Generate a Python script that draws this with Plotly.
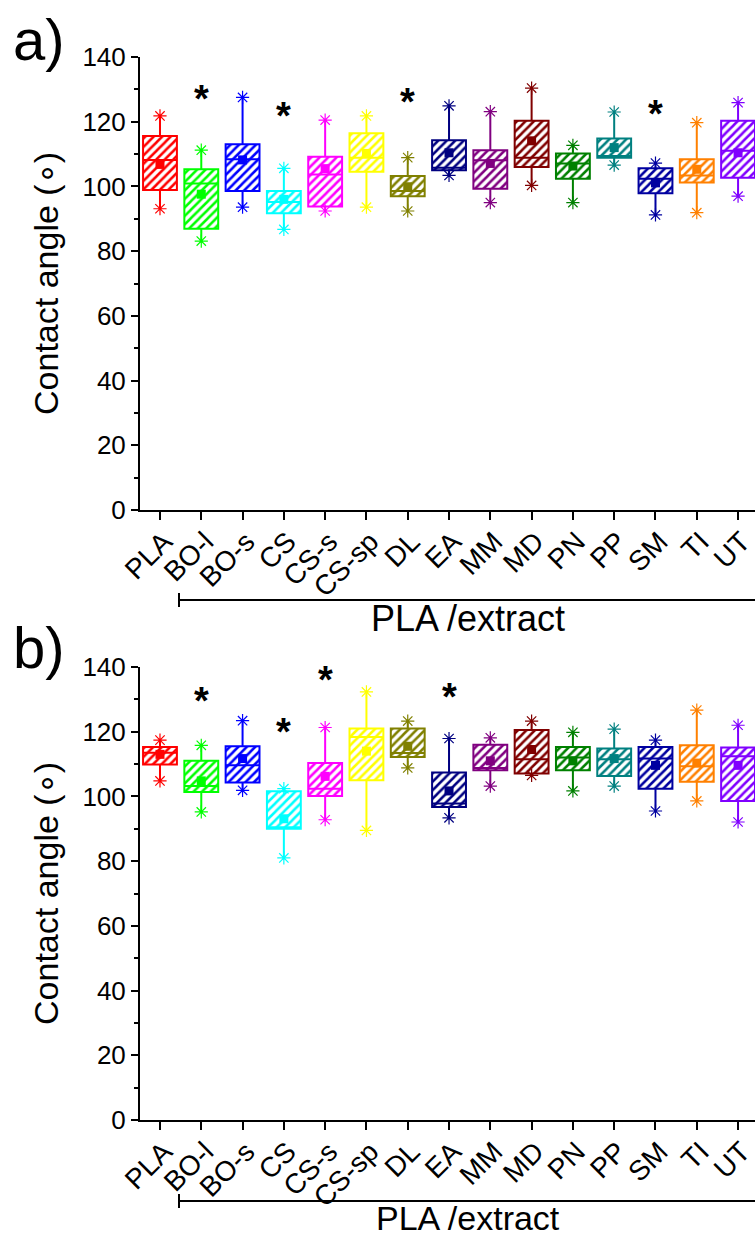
import plotly.graph_objects as go

cats = ["PLA", "BO-l", "BO-s", "CS", "CS-s", "CS-sp", "DL", "EA", "MM", "MD", "PN", "PP", "SM", "TI", "UT"]
colors = ["#FF0000", "#00FF00", "#0000FF", "#00FFFF", "#FF00FF", "#FFFF00", "#808000", "#000080",
          "#800080", "#800000", "#008000", "#008080", "#0000A0", "#FF8000", "#8000FF"]

# panel a
a_min = [93.1, 83.1, 93.6, 86.7, 92.4, 93.6, 92.4, 103.4, 95.0, 100.3, 95.0, 106.6, 91.2, 91.9, 97.0]
a_q1 = [98.9, 86.9, 98.6, 91.7, 93.8, 104.5, 97.0, 105.0, 99.3, 106.0, 102.4, 108.9, 97.9, 101.2, 102.7]
a_med = [108.2, 100.9, 108.4, 95.2, 103.7, 108.9, 98.6, 105.8, 108.1, 108.9, 107.1, 109.4, 102.4, 103.4, 111.0]
a_q3 = [115.6, 105.3, 113.0, 98.6, 109.2, 116.4, 103.2, 114.3, 111.2, 120.3, 110.2, 114.8, 105.6, 108.4, 120.3]
a_max = [121.8, 111.2, 127.5, 105.6, 120.5, 121.8, 108.9, 124.9, 123.1, 130.4, 112.7, 123.0, 107.2, 119.7, 125.9]
a_mean = [106.8, 97.6, 108.2, 96.0, 105.5, 110.2, 99.9, 110.4, 107.1, 114.1, 106.3, 112.0, 101.1, 105.3, 110.4]
a_star_idx = [1, 3, 6, 12]
a_star_y = [125.0, 119.7, 123.9, 120.3]

# panel b
b_min = [104.8, 95.2, 101.9, 81.0, 92.8, 89.5, 108.8, 93.4, 103.2, 106.5, 101.7, 103.2, 95.5, 98.6, 92.1]
b_q1 = [109.9, 101.4, 104.3, 90.0, 100.1, 105.0, 112.2, 96.7, 108.1, 107.1, 108.1, 106.3, 102.4, 104.5, 98.6]
b_med = [113.5, 103.2, 109.6, 90.5, 102.4, 118.4, 113.4, 97.8, 108.8, 111.5, 112.0, 111.5, 111.7, 109.3, 112.4]
b_q3 = [115.3, 111.0, 115.5, 101.6, 110.3, 121.0, 121.0, 107.4, 116.0, 120.5, 115.3, 114.8, 115.3, 115.8, 115.1]
b_max = [117.4, 115.8, 123.4, 102.4, 121.3, 132.3, 123.3, 117.9, 118.1, 123.3, 119.8, 120.8, 117.4, 126.7, 122.0]
b_mean = [113.0, 104.8, 111.7, 93.1, 106.2, 114.0, 115.5, 101.7, 111.0, 114.5, 111.0, 111.7, 109.6, 110.3, 109.6]
b_star_idx = [1, 3, 4, 7]
b_star_y = [127.2, 117.7, 133.9, 128.7]

yticks = [0, 20, 40, 60, 80, 100, 120, 140]

FONT = "Liberation Sans, Arial, sans-serif"
W, H = 755, 1238
ML = 140
PW = W - ML
BW = 0.82

fig = go.Figure()
xs = list(range(len(cats)))


def add_panel(xa, ya, vmin, q1, med, q3, vmax, mean):
    fig.add_trace(go.Bar(
        x=xs, y=[t - b for t, b in zip(q3, q1)], base=q1, width=BW,
        xaxis=xa, yaxis=ya, showlegend=False, hoverinfo="skip",
        marker=dict(color="white", line=dict(width=0),
                    pattern=dict(shape="/", fgcolor=colors, bgcolor="white", size=6,
                                 solidity=0.42, fgopacity=1)),
    ))
    for i in xs:
        fig.add_trace(go.Box(
            x=[i], q1=[q1[i]], median=[med[i]], q3=[q3[i]],
            lowerfence=[vmin[i]], upperfence=[vmax[i]], width=BW,
            fillcolor="rgba(0,0,0,0)", line=dict(color=colors[i], width=2),
            whiskerwidth=0, xaxis=xa, yaxis=ya, showlegend=False, hoverinfo="skip",
        ))
    fig.add_trace(go.Scatter(
        x=xs + xs, y=vmin + vmax, mode="markers", xaxis=xa, yaxis=ya, showlegend=False,
        marker=dict(symbol="asterisk-open", size=11, color=colors + colors,
                    line=dict(color=colors + colors, width=1.2)),
    ))
    fig.add_trace(go.Scatter(
        x=xs, y=mean, mode="markers", xaxis=xa, yaxis=ya, showlegend=False,
        marker=dict(symbol="square", size=9, color=colors, line=dict(width=0)),
    ))


add_panel("x", "y", a_min, a_q1, a_med, a_q3, a_max, a_mean)
add_panel("x2", "y2", b_min, b_q1, b_med, b_q3, b_max, b_mean)


def py_paper(py):
    return (H - py) / H


def px_paper(px):
    return (px - ML) / PW


xrange_ = [-0.484, 14.41]
xaxis_common = dict(
    range=xrange_, tickvals=xs, ticktext=cats, tickangle=-45,
    showline=True, linecolor="black", linewidth=2, ticks="outside", ticklen=8, tickwidth=1.5,
    tickcolor="black", tickfont=dict(family=FONT, size=28, color="black"),
    ticklabelshift=4, ticklabelstandoff=-6, ticklabeloverflow="allow", automargin=False,
    showgrid=False, zeroline=False,
)
yaxis_common = dict(
    range=[0, 140], tickvals=yticks, showline=True, linecolor="black", linewidth=2,
    ticks="outside", ticklen=7, tickwidth=1.5, tickcolor="black",
    minor=dict(dtick=10, ticks="outside", ticklen=4, tickwidth=1.5, tickcolor="black"),
    tickfont=dict(family=FONT, size=26, color="black"), showgrid=False, zeroline=False,
    automargin=False,
    title=dict(text="Contact angle (\u2218)", font=dict(family=FONT, size=34, color="black"), standoff=14),
)

fig.update_layout(
    width=W, height=H, margin=dict(l=ML, r=0, t=0, b=0),
    paper_bgcolor="white", plot_bgcolor="white", barmode="overlay", boxmode="overlay",
    xaxis=dict(domain=[0, 1], anchor="y", **xaxis_common),
    yaxis=dict(domain=[py_paper(510), py_paper(57)], anchor="x", **yaxis_common),
    xaxis2=dict(domain=[0, 1], anchor="y2", **xaxis_common),
    yaxis2=dict(domain=[py_paper(1120), py_paper(667)], anchor="x2", **yaxis_common),
)

# significance asterisks
for xr, yr, idxs, ys in [("x", "y", a_star_idx, a_star_y), ("x2", "y2", b_star_idx, b_star_y)]:
    for idx, yv in zip(idxs, ys):
        fig.add_annotation(x=idx, y=yv, xref=xr, yref=yr, text="<b>*</b>", showarrow=False,
                           font=dict(family=FONT, size=38, color="black"), yanchor="middle", yshift=7)

# panel labels
for txt, py in [("a)", 39), ("b)", 647)]:
    fig.add_annotation(x=px_paper(39), y=py_paper(py), xref="paper", yref="paper", text=txt,
                       showarrow=False, font=dict(family=FONT, size=58, color="black"),
                       xanchor="center", yanchor="middle")

# PLA / extract brackets
for xr, py_line in [("x", 600), ("x2", 1201)]:
    fig.add_shape(type="line", xref=xr, yref="paper", x0=0.46, x1=xrange_[1],
                  y0=py_paper(py_line), y1=py_paper(py_line), line=dict(color="black", width=2))
    fig.add_shape(type="line", xref=xr, yref="paper", x0=0.46, x1=0.46,
                  y0=py_paper(py_line - 7), y1=py_paper(py_line + 7), line=dict(color="black", width=2))
for py_text, fs in [(618, 36), (1218, 34)]:
    fig.add_annotation(x=px_paper(468), y=py_paper(py_text), xref="paper", yref="paper",
                       text="PLA /extract", showarrow=False,
                       font=dict(family=FONT, size=fs, color="black"), xanchor="center", yanchor="middle")

fig.write_html("out.html")
